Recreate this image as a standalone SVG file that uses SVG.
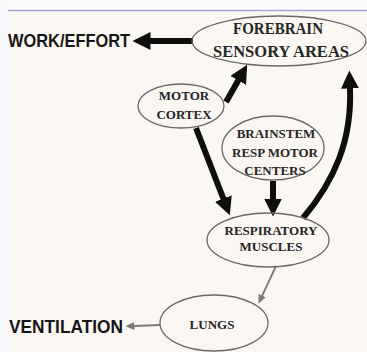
<svg xmlns="http://www.w3.org/2000/svg" width="367" height="352" viewBox="0 0 367 352">
<style>
.node ellipse{fill:none;stroke:#6a6a6a;stroke-width:1.3}
.lbl{font-family:"Liberation Serif","Times New Roman",serif;font-weight:bold;font-size:13px;fill:#262626;text-anchor:middle}
.big{font-size:16.5px}
.side{font-family:"Liberation Sans",Arial,sans-serif;font-weight:bold;font-size:18px;fill:#161616}
.thick{fill:none;stroke:#0e0e0e;stroke-width:6}
.thin{fill:none;stroke:#7a7a7a;stroke-width:1.8}
</style>
<defs>
<marker id="hb" markerUnits="userSpaceOnUse" markerWidth="18" markerHeight="18" viewBox="0 0 18 18" refX="0.5" refY="9" orient="auto">
<path d="M0,0 L18,9 L0,18 z" fill="#0e0e0e"/>
</marker>
<marker id="hg" markerUnits="userSpaceOnUse" markerWidth="9" markerHeight="8" viewBox="0 0 9 8" refX="0.5" refY="4" orient="auto">
<path d="M0,0 L9,4 L0,8 z" fill="#7a7a7a"/>
</marker>
</defs>
<rect x="0" y="0" width="367" height="352" fill="#fbf7f3"/>
<rect x="0" y="0" width="367" height="10" fill="#fdfcfc"/>
<rect x="0" y="0" width="8" height="352" fill="#f8f7f9"/>
<line x1="8" y1="10.5" x2="367" y2="10.5" stroke="#a7a4d6" stroke-width="1.5"/>

<g id="connectors">
<path class="thick" d="M193,41 L150,41" marker-end="url(#hb)"/>
<path class="thick" d="M226,102 L238.5,80" marker-end="url(#hb)"/>
<path class="thick" d="M196,128 L223.5,199" marker-end="url(#hb)"/>
<path class="thick" d="M273,181 L273,199" marker-end="url(#hb)"/>
<path class="thick" d="M303,218 C335,180 352,140 350,88" marker-end="url(#hb)"/>
<path class="thin" d="M276,266 L262,296" marker-end="url(#hg)"/>
<path class="thin" d="M160,325 L134,326" marker-end="url(#hg)"/>
</g>

<g id="forebrain" class="node">
<ellipse cx="279" cy="41" rx="87" ry="25"/>
<text class="lbl big" x="278" y="34" textLength="90" lengthAdjust="spacingAndGlyphs">FOREBRAIN</text>
<text class="lbl big" x="281" y="57" textLength="136" lengthAdjust="spacingAndGlyphs">SENSORY AREAS</text>
</g>
<g id="work-effort">
<text class="side" x="8" y="47" textLength="122" lengthAdjust="spacingAndGlyphs">WORK/EFFORT</text>
</g>
<g id="motor-cortex" class="node">
<ellipse cx="181" cy="106" rx="43" ry="22"/>
<text class="lbl" x="184" y="100">MOTOR</text>
<text class="lbl" x="184" y="119">CORTEX</text>
</g>
<g id="brainstem" class="node">
<ellipse cx="273" cy="148" rx="51" ry="32"/>
<text class="lbl" x="276" y="138">BRAINSTEM</text>
<text class="lbl" x="275" y="157" textLength="86" lengthAdjust="spacingAndGlyphs">RESP MOTOR</text>
<text class="lbl" x="275" y="175">CENTERS</text>
</g>
<g id="respiratory-muscles" class="node">
<ellipse cx="268" cy="240" rx="61" ry="27"/>
<text class="lbl" x="271" y="235">RESPIRATORY</text>
<text class="lbl" x="271" y="251">MUSCLES</text>
</g>
<g id="lungs" class="node">
<ellipse cx="214" cy="323" rx="54" ry="28"/>
<text class="lbl" x="212" y="329">LUNGS</text>
</g>
<g id="ventilation">
<text class="side" x="9" y="333" textLength="114" lengthAdjust="spacingAndGlyphs">VENTILATION</text>
</g>
</svg>
